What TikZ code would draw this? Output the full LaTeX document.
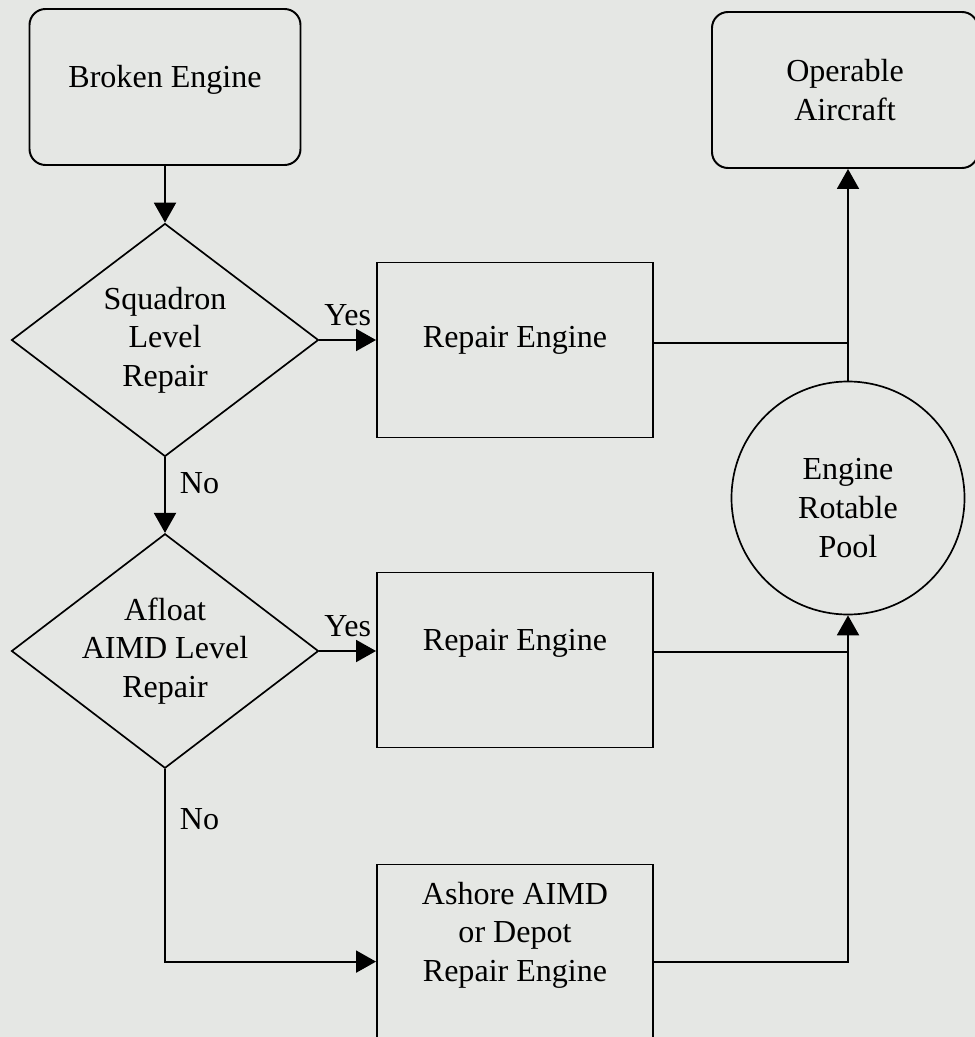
\documentclass[tikz,border=0pt]{standalone}
\usepackage{fontspec}
\setmainfont{Liberation Serif}
\usepackage{tikz}
\usetikzlibrary{shapes,arrows.meta,positioning}
\definecolor{scan}{RGB}{229, 231, 228}

\begin{document}
\begin{tikzpicture}[line width=1.4pt,
  font=\fontsize{22.8pt}{27.4pt}\selectfont,
  start/.style={draw, rectangle, rounded corners=0.4cm, minimum width=6.775cm,
    minimum height=3.9cm, align=center},
  choice/.style={draw, diamond, shape aspect=1.3, inner sep=0pt, line width=1.2pt,
    minimum width=7.675cm, minimum height=5.825cm, align=center},
  task/.style={draw, rectangle, minimum width=6.9cm, minimum height=4.375cm,
    align=center},
  store/.style={draw, circle, minimum size=5.825cm, line width=1.2pt, align=center},
  flow/.style={-{Triangle[length=0.5cm, width=0.55cm]}}]
  \fill[scan] (0, 0) rectangle (24.375, -25.925);
  \useasboundingbox (0, 0) rectangle (24.375, -25.925);

  % boxes
  \node[start, text height=0.6cm, text depth=0.57cm] (broken) at (4.125, -2.175) {Broken Engine};
  \node[start, minimum width=6.65cm] (aircraft) at (21.125, -2.25) {Operable\\Aircraft};
  \node[choice] (squadron) at (4.125, -8.5) {Squadron\\Level\\Repair};
  \node[choice, minimum height=5.8cm] (afloat) at (4.125, -16.275) {Afloat\\AIMD Level\\Repair};
  \node[task, text height=0.6cm, text depth=0.72cm] (repair1) at (12.875, -8.75) {Repair Engine};
  \node[task, text height=0.6cm, text depth=1.07cm] (repair2) at (12.875, -16.5) {Repair Engine};
  \node[task, text height=2.525cm, text depth=1.07cm] (ashore) at (12.875, -23.8) {Ashore AIMD\\or Depot\\Repair Engine};
  \node[store, text height=3.0cm, text depth=0.05cm] (pool) at (21.2, -12.45) {Engine\\Rotable\\Pool};

  % decisions
  \draw[flow] (broken.south) -- (squadron.north);
  \draw[flow] (squadron.east) -- (squadron.east -| repair1.west) node[midway, above=0.22cm] {Yes};
  \draw[flow] (squadron.south) -- (afloat.north) node[pos=0.34, right=0.23cm] {No};
  \draw[flow] (afloat.east) -- (afloat.east -| repair2.west) node[midway, above=0.22cm] {Yes};
  \draw[flow] (afloat.south) |- ([yshift=-0.24cm]ashore.west) node[pos=0.13, right=0.23cm] {No};

  % back to the pool and the aircraft
  \draw ([yshift=0.18cm]repair1.east) -- ([yshift=0.18cm]repair1.east -| pool.north);
  \draw[flow] (pool.north) -- (pool.north |- aircraft.south);
  \draw ([yshift=0.19cm]repair2.east) -- ([yshift=0.19cm]repair2.east -| pool.south);
  \draw[flow] ([yshift=-0.24cm]ashore.east) -| (pool.south);
\end{tikzpicture}
\end{document}
